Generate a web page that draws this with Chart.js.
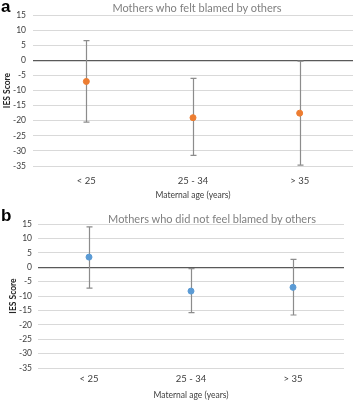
<!DOCTYPE html>
<html>
<head>
<meta charset="utf-8">
<script src="https://cdn.jsdelivr.net/npm/chart.js@4"></script>
<style>
  body { margin: 0; background: #fff; font-family: Lato, sans-serif; }
  .panel { position: relative; width: 358px; }
  .tag { position: absolute; left: 1px; font: bold 17px "Liberation Sans", Arial, sans-serif; color: #000; }
  .ttl { position: absolute; transform: translate(-50%, -50%); white-space: nowrap;
         font: 11px Lato, sans-serif; color: #7f7f7f; }
</style>
</head>
<body>
<div class="panel" style="height:200px">
  <div class="tag" style="top:-3px">a</div>
  <div class="ttl" style="left:197px; top:7px">Mothers who felt blamed by others</div>
  <canvas id="chartA" width="358" height="200"></canvas>
</div>
<div class="panel" style="height:201px">
  <div class="tag" style="top:6px">b</div>
  <div class="ttl" style="left:212px; top:18px">Mothers who did not feel blamed by others</div>
  <canvas id="chartB" width="358" height="201"></canvas>
</div>
<script>
const categories = ['< 25', '25 - 34', '> 35'];

const blamedMean = [-7, -19, -17.5];
const blamedUpper = [6.5, -6, -0.3];
const blamedLower = [-20.5, -31.5, -34.7];

const notBlamedMean = [3.5, -8.3, -7];
const notBlamedUpper = [14, -0.5, 2.7];
const notBlamedLower = [-7.3, -15.8, -16.6];

const yMin = -35, yMax = 15, yStep = 5;

// draws the whiskers behind the points, using the chart's own scales
const errorBars = {
  id: 'errorBars',
  beforeDatasetsDraw(chart, args, opts) {
    const ctx = chart.ctx;
    const x = chart.scales.x, y = chart.scales.y;
    ctx.save();
    ctx.strokeStyle = '#8c8c8c';
    ctx.lineWidth = 1.2;
    opts.upper.forEach((hi, i) => {
      const px = Math.round(x.getPixelForValue(i)) + 0.5;
      const top = y.getPixelForValue(hi);
      const bot = y.getPixelForValue(opts.lower[i]);
      ctx.beginPath();
      ctx.moveTo(px, top); ctx.lineTo(px, bot);
      ctx.moveTo(px - 3, top); ctx.lineTo(px + 3, top);
      ctx.moveTo(px - 3, bot); ctx.lineTo(px + 3, bot);
      ctx.stroke();
    });
    ctx.restore();
  }
};

// lay = sizes of the axis boxes, so both panels line up with the picture
function makeChart(id, means, upper, lower, color, lay) {
  return new Chart(document.getElementById(id), {
    type: 'line',
    data: {
      labels: categories,
      datasets: [{
        data: means,
        showLine: false,
        pointRadius: 3,
        pointBackgroundColor: color,
        pointBorderColor: color
      }]
    },
    plugins: [errorBars],
    options: {
      responsive: false,
      animation: false,
      layout: { padding: { top: lay.top, right: lay.right, left: 0, bottom: 0 } },
      plugins: {
        legend: { display: false },
        tooltip: { enabled: false },
        errorBars: { upper: upper, lower: lower }
      },
      scales: {
        x: {
          offset: true,
          afterFit: s => { s.height = lay.xh; },
          grid: { display: false, drawTicks: false },
          border: { display: false },
          ticks: { color: '#404040', font: { family: 'Lato', size: 9.5 }, padding: lay.xpad },
          title: {
            display: true,
            text: 'Maternal age (years)',
            color: '#404040',
            font: { family: 'Lato', size: 8.5, lineHeight: 1.1 },
            padding: { top: 0, bottom: lay.xtb }
          }
        },
        y: {
          min: yMin,
          max: yMax,
          afterFit: s => { s.width = lay.yw; },
          border: { display: false },
          grid: {
            drawTicks: false,
            color: c => c.tick.value === 0 ? '#595959' : '#d9d9d9',
            lineWidth: c => c.tick.value === 0 ? 1.3 : 1
          },
          ticks: {
            stepSize: yStep,
            color: '#404040',
            font: { family: 'Lato', size: 8.5 },
            padding: lay.ypad
          },
          title: {
            display: true,
            text: 'IES Score',
            color: '#262626',
            font: { family: 'Lato', size: 8.5, weight: 'bold' },
            padding: { top: lay.ytt, bottom: 0 }
          }
        }
      }
    }
  });
}

makeChart('chartA', blamedMean, blamedUpper, blamedLower, '#ed7d31',
  { top: 15, right: 2, xh: 34, xpad: 9, xtb: 0, yw: 33, ypad: 7, ytt: 2 });
makeChart('chartB', notBlamedMean, notBlamedUpper, notBlamedLower, '#5b9bd5',
  { top: 24, right: 14, xh: 33, xpad: 5, xtb: 1, yw: 38, ypad: 6, ytt: 8 });
</script>
</body>
</html>
